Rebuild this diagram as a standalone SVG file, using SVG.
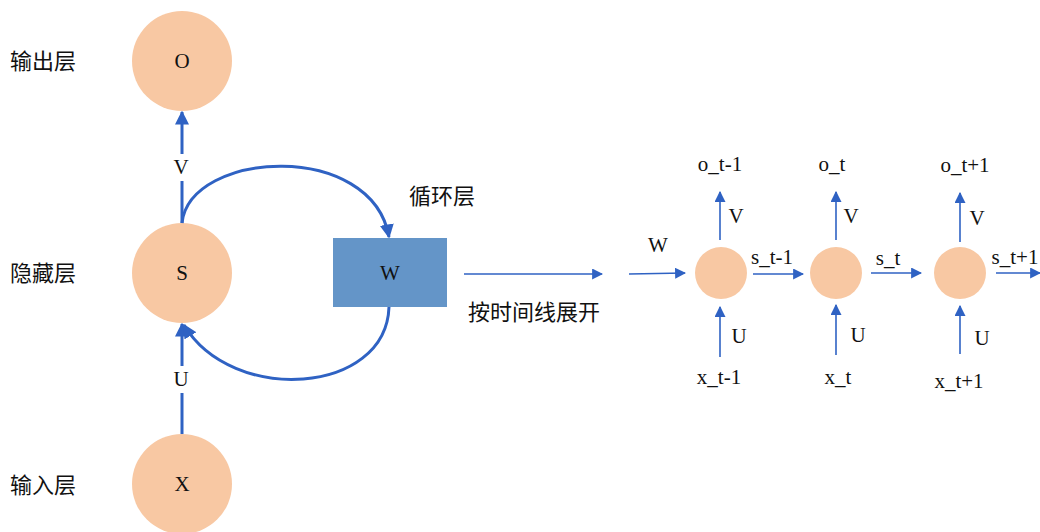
<svg xmlns="http://www.w3.org/2000/svg" width="1040" height="532" viewBox="0 0 1040 532">
<defs>
<marker id="big" viewBox="0 0 10 10" refX="9" refY="5" markerWidth="14" markerHeight="14" markerUnits="userSpaceOnUse" orient="auto"><path d="M0,0 L10,5 L0,10 z" fill="#2f62c3"/></marker>
<marker id="sm" viewBox="0 0 10 10" refX="9" refY="5" markerWidth="11" markerHeight="11" markerUnits="userSpaceOnUse" orient="auto"><path d="M0,0 L10,5 L0,10 z" fill="#2f62c3"/></marker>
<style>
.node{fill:#f8c8a3}
.t{font-family:"Liberation Serif","Times New Roman",serif;font-size:21px;fill:#111;text-anchor:middle;dominant-baseline:central}
.c{font-family:"Noto Sans CJK SC","Noto Sans",sans-serif;font-size:22px;fill:#111;dominant-baseline:central}
.thick{stroke:#2f62c3;stroke-width:3;fill:none}
.thin{stroke:#2f62c3;stroke-width:1.6;fill:none}
</style>
</defs>
<rect width="1040" height="532" fill="#fff"/>
<text class="c" x="10" y="59">输出层</text>
<text class="c" x="10" y="271">隐藏层</text>
<text class="c" x="10" y="483">输入层</text>
<g id="nodeO"><circle class="node" cx="182" cy="61" r="50"/><text class="t" x="182" y="61">O</text></g>
<g id="nodeS"><circle class="node" cx="182" cy="273" r="50"/><text class="t" x="182" y="273">S</text></g>
<g id="nodeX"><circle class="node" cx="182" cy="484" r="50"/><text class="t" x="182" y="484">X</text></g>
<g id="nodeW"><rect x="333" y="238" width="114" height="69" fill="#6495c8"/><text class="t" x="390" y="273">W</text></g>
<g id="n1"><circle class="node" cx="721" cy="273" r="26"/></g>
<g id="n2"><circle class="node" cx="836" cy="273" r="26"/></g>
<g id="n3"><circle class="node" cx="960" cy="273" r="26"/></g>
<g id="connectors">
<line class="thick" x1="182" y1="223" x2="182" y2="181"/>
<line class="thick" x1="182" y1="154" x2="182" y2="112" marker-end="url(#big)"/>
<line class="thick" x1="182" y1="434" x2="182" y2="393"/>
<line class="thick" x1="182" y1="366" x2="182" y2="324" marker-end="url(#big)"/>
<path class="thick" d="M182,223 C190,150 372,140 389,237" marker-end="url(#big)"/>
<path class="thick" d="M389,307 C386,395 232,405 184,325" marker-end="url(#big)"/>
<line class="thin" x1="464" y1="274" x2="602" y2="274" marker-end="url(#sm)"/>
<line class="thin" x1="629" y1="274" x2="685" y2="273" marker-end="url(#sm)"/>
<line class="thin" x1="753" y1="274" x2="803" y2="274" marker-end="url(#sm)"/>
<line class="thin" x1="871" y1="273" x2="921" y2="273" marker-end="url(#sm)"/>
<line class="thin" x1="996" y1="273" x2="1040" y2="273" marker-end="url(#sm)"/>
<line class="thin" x1="720" y1="240" x2="720" y2="192" marker-end="url(#sm)"/>
<line class="thin" x1="836" y1="240" x2="836" y2="192" marker-end="url(#sm)"/>
<line class="thin" x1="960" y1="242" x2="960" y2="193" marker-end="url(#sm)"/>
<line class="thin" x1="720" y1="357" x2="720" y2="307" marker-end="url(#sm)"/>
<line class="thin" x1="836" y1="355" x2="836" y2="305" marker-end="url(#sm)"/>
<line class="thin" x1="960" y1="354" x2="960" y2="306" marker-end="url(#sm)"/>
</g>
<text class="t" x="181" y="167">V</text>
<text class="t" x="181" y="379">U</text>
<text class="c" x="409" y="194">循环层</text>
<text class="c" x="468" y="310">按时间线展开</text>
<text class="t" x="658" y="245">W</text>
<text class="t" x="720" y="164">o_t-1</text>
<text class="t" x="832" y="164">o_t</text>
<text class="t" x="965" y="165">o_t+1</text>
<text class="t" x="736" y="216">V</text>
<text class="t" x="851" y="216">V</text>
<text class="t" x="977" y="218">V</text>
<text class="t" x="739" y="336">U</text>
<text class="t" x="858" y="335">U</text>
<text class="t" x="982" y="338">U</text>
<text class="t" x="719" y="377">x_t-1</text>
<text class="t" x="838" y="377">x_t</text>
<text class="t" x="959" y="381">x_t+1</text>
<text class="t" x="772" y="257">s_t-1</text>
<text class="t" x="888" y="258">s_t</text>
<text class="t" x="1015" y="257">s_t+1</text>
</svg>
